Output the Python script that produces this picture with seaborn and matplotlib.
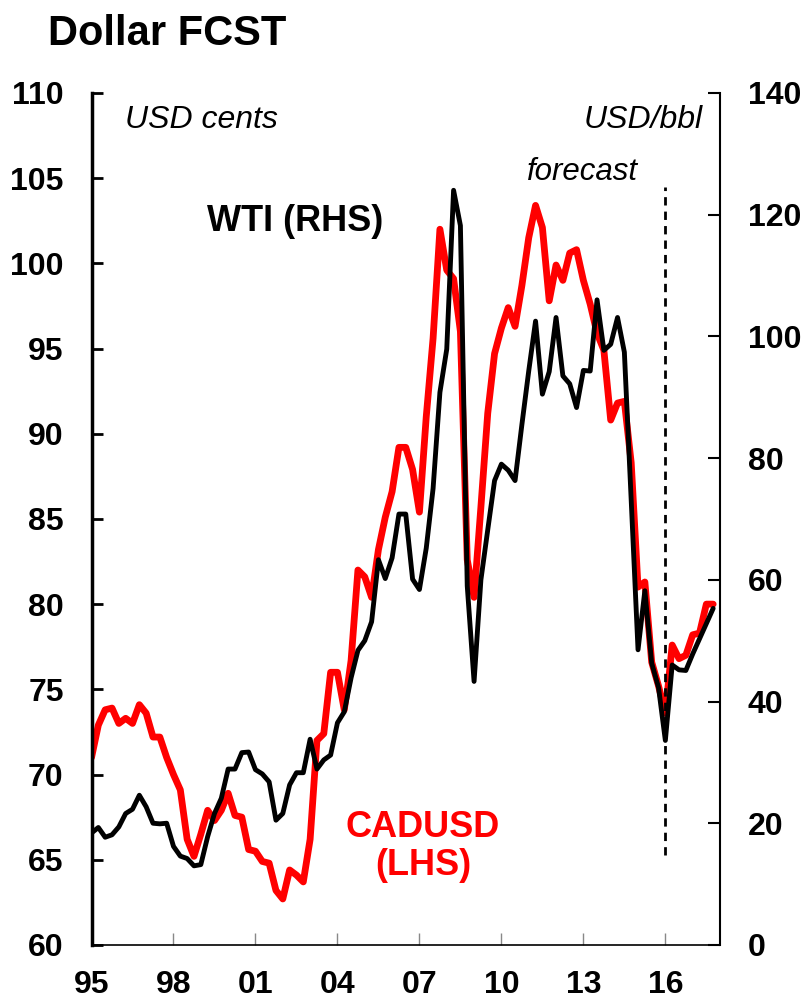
import numpy as np
import pandas as pd
import matplotlib
matplotlib.use("Agg")
import matplotlib.pyplot as plt
import seaborn as sns

sns.set_theme(style="white")
plt.rcParams['font.family'] = ['Liberation Sans', 'DejaVu Sans']
plt.rcParams['text.color'] = 'black'
plt.rcParams['xtick.color'] = 'black'
plt.rcParams['ytick.color'] = 'black'
plt.rcParams['axes.labelcolor'] = 'black'

# quarterly data, 1995Q1 - 2017Q4 (forecast from 2016Q2)
quarters = pd.period_range('1995Q1', '2017Q4', freq='Q')

# CADUSD, US cents (LHS)
cadusd = [71.0, 72.9, 73.8, 73.9,
          73.0, 73.3, 73.0, 74.1,
          73.6, 72.2, 72.2, 71.0,
          70.0, 69.1, 66.2, 65.2,
          66.5, 67.9, 67.3, 67.9,
          68.9, 67.6, 67.5, 65.6,
          65.5, 64.9, 64.8, 63.2,
          62.7, 64.4, 64.1, 63.7,
          66.2, 72.0, 72.4, 76.0,
          76.0, 73.8, 76.7, 82.0,
          81.6, 80.4, 83.2, 85.1,
          86.6, 89.2, 89.2, 87.9,
          85.4, 91.0, 95.6, 102.0,
          99.6, 99.1, 96.0, 82.6,
          80.4, 85.7, 91.2, 94.7,
          96.2, 97.4, 96.3, 98.7,
          101.5, 103.4, 102.1, 97.8,
          99.9, 99.0, 100.6, 100.8,
          99.0, 97.6, 95.9, 94.9,
          90.8, 91.8, 91.9, 88.3,
          81.0, 81.3, 76.6, 75.2,
          73.6, 77.6, 76.8, 77.0,
          78.2, 78.3, 80.0, 80.0]

# WTI, USD/bbl (RHS)
wti = [18.4, 19.3, 17.7, 18.1,
       19.4, 21.6, 22.3, 24.6,
       22.7, 20.0, 19.9, 20.0,
       16.2, 14.6, 14.2, 13.0,
       13.2, 17.8, 21.6, 24.1,
       28.9, 28.9, 31.6, 31.7,
       28.8, 28.1, 26.8, 20.5,
       21.6, 26.3, 28.3, 28.3,
       33.8, 28.9, 30.4, 31.2,
       36.5, 38.3, 43.9, 48.4,
       50.0, 53.1, 63.3, 60.2,
       63.6, 70.8, 70.8, 60.1,
       58.4, 65.2, 75.0, 90.8,
       97.9, 124.0, 118.2, 59.0,
       43.3, 60.0, 68.2, 76.3,
       79.0, 78.0, 76.3, 85.5,
       94.3, 102.5, 90.5, 94.2,
       103.1, 93.5, 92.2, 88.3,
       94.4, 94.3, 106.0, 97.7,
       98.7, 103.1, 97.4, 73.1,
       48.5, 58.2, 46.3, 42.3,
       33.6, 46.0, 45.2, 45.1,
       47.8, 50.3, 52.8, 55.3]

forecast_start = 2016.0
year_ticks = [1995, 1998, 2001, 2004, 2007, 2010, 2013, 2016]
year_labels = ['95', '98', '01', '04', '07', '10', '13', '16']
left_ticks = [60, 65, 70, 75, 80, 85, 90, 95, 100, 105, 110]
right_ticks = [0, 20, 40, 60, 80, 100, 120, 140]

df = pd.DataFrame({'t': quarters.year + (quarters.quarter - 1) / 4,
                   'cadusd': cadusd, 'wti': wti})

fig = plt.figure(figsize=(8.07, 9.99), dpi=100)
ax = fig.add_axes([0.1134, 0.0541, 0.7788, 0.8529])
ax2 = ax.twinx()

sns.lineplot(data=df, x='t', y='cadusd', ax=ax, color='#ff0000', linewidth=4.9)
sns.lineplot(data=df, x='t', y='wti', ax=ax2, color='black', linewidth=3.5)

# forecast marker
ax.axvline(forecast_start, ymin=(65.3 - 60) / 50, ymax=(104.5 - 60) / 50,
           color='black', lw=2, ls=(0, (3, 2.2)))

ax.set_xlim(1995, 2018)
ax.set_ylim(60, 110)
ax2.set_ylim(0, 140)
ax.set_xlabel('')
ax.set_ylabel('')
ax2.set_ylabel('')

ax.set_xticks(year_ticks)
ax.set_xticklabels(year_labels, fontsize=23, fontweight='bold')
ax.set_yticks(left_ticks)
ax.set_yticklabels([str(v) for v in left_ticks], fontsize=23, fontweight='bold')
ax2.set_yticks(right_ticks)
ax2.set_yticklabels([str(v) for v in right_ticks], fontsize=23, fontweight='bold')

ax.tick_params(axis='x', direction='in', length=9, width=1, color='#888888', pad=18, bottom=True)
ax.tick_params(axis='y', direction='in', length=8, width=2, color='black', pad=20, left=True)
ax2.tick_params(axis='y', direction='in', length=9, width=1.5, color='black', pad=20, right=True)

for a in (ax, ax2):
    a.spines['top'].set_visible(False)
ax.spines['right'].set_visible(False)
ax2.spines['left'].set_visible(False)
ax2.spines['bottom'].set_visible(False)
ax.spines['left'].set_linewidth(2.5)
ax.spines['left'].set_color('black')
ax.spines['bottom'].set_linewidth(1.2)
ax.spines['bottom'].set_color('black')
ax2.spines['right'].set_linewidth(1.5)
ax2.spines['right'].set_color('black')

# texts
fig.text(48 / 807, 1 - 45 / 999, 'Dollar FCST', fontsize=30, fontweight='bold', va='baseline')
fig.text(125 / 807, 1 - 128 / 999, 'USD cents', fontsize=23, style='italic', va='baseline')
fig.text(703 / 807, 1 - 128 / 999, 'USD/bbl', fontsize=23, style='italic', ha='right', va='baseline')
fig.text(638 / 807, 1 - 180 / 999, 'forecast', fontsize=22.5, style='italic', ha='right', va='baseline')
fig.text(295 / 807, 1 - 231 / 999, 'WTI (RHS)', fontsize=26, fontweight='bold', ha='center', va='baseline')
fig.text(423 / 807, 1 - 837 / 999, 'CADUSD', fontsize=26, fontweight='bold', color='#ff0000',
         ha='center', va='baseline')
fig.text(423 / 807, 1 - 875 / 999, '(LHS)', fontsize=26, fontweight='bold', color='#ff0000',
         ha='center', va='baseline')

plt.savefig('out.png', dpi=100)
